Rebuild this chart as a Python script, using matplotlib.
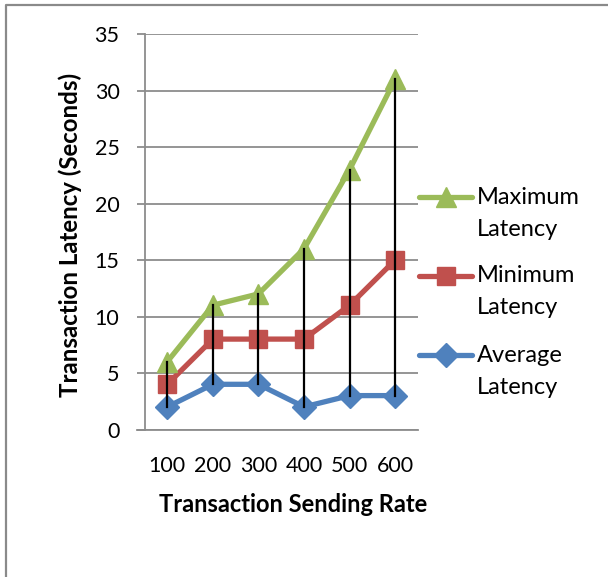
import matplotlib
matplotlib.use("Agg")
import matplotlib.pyplot as plt
from matplotlib.lines import Line2D

plt.rcParams['font.family'] = ['Lato', 'DejaVu Sans']

rates = ['100', '200', '300', '400', '500', '600']
max_latency = [6, 11, 12, 16, 23, 31]
min_latency = [4, 8, 8, 8, 11, 15]
avg_latency = [2, 4, 4, 2, 3, 3]
y_ticks = [0, 5, 10, 15, 20, 25, 30, 35]

GREEN = '#9BBB59'
RED = '#C0504D'
BLUE = '#4F81BD'
GRID = '#8C8C8C'

W, H = 608, 577
fig = plt.figure(figsize=(W / 100, H / 100), dpi=100)

# plot area in pixel terms: x 144..418, y 34..430
left, right, top, bottom = 144.5, 418, 34, 429.5
ax = fig.add_axes([left / W, 1 - bottom / H, (right - left) / W, (bottom - top) / H])

xs = list(range(1, len(rates) + 1))
ax.set_xlim(0.5, len(rates) + 0.5)
ax.set_ylim(0, 35)

# horizontal gridlines
for t in y_ticks:
    ax.axhline(t, color=GRID, lw=1.3, zorder=0)

# high-low lines between the largest and smallest value at each rate
for x, hi, lo in zip(xs, max_latency, avg_latency):
    ax.plot([x, x], [lo, hi], color='black', lw=1.6, zorder=5)

ax.plot(xs, avg_latency, color=BLUE, lw=3.8, marker='D', ms=12, zorder=3,
        solid_capstyle='round')
ax.plot(xs, min_latency, color=RED, lw=3.8, marker='s', ms=13.5, zorder=3,
        solid_capstyle='round')
ax.plot(xs, max_latency, color=GREEN, lw=3.8, marker='^', ms=15, zorder=3,
        solid_capstyle='round')

for s in ['top', 'right', 'bottom']:
    ax.spines[s].set_visible(False)
ax.spines['left'].set_color(GRID)
ax.spines['left'].set_linewidth(1.3)

ax.set_yticks(y_ticks)
ax.set_yticklabels([str(t) for t in y_ticks], fontsize=15.5)
ax.tick_params(axis='y', length=6, width=1.3, color=GRID, pad=12)
ax.set_xticks(xs)
ax.set_xticklabels(rates, fontsize=15.5)
ax.tick_params(axis='x', length=0, pad=19)
# baseline extends left like the tick marks
ax.plot([0.5 - 8 / 45.6, 6.5], [0, 0], color=GRID, lw=1.3, clip_on=False, zorder=1)

# axis titles
fig.text(293 / W, 1 - 505 / H, 'Transaction Sending Rate', fontsize=17, fontweight='bold',
         ha='center', va='center')
fig.text(70 / W, 1 - 235 / H, 'Transaction Latency (Seconds)', fontsize=17.3,
         fontweight='bold', ha='center', va='center', rotation=90)

# legend entries, handle aligned with the first text line
entries = [('Maximum', 'Latency', GREEN, '^', 15, 197),
           ('Minimum', 'Latency', RED, 's', 13, 276),
           ('Average', 'Latency', BLUE, 'D', 12, 355)]
for l1, l2, c, m, ms, yp in entries:
    yf = 1 - yp / H
    fig.add_artist(Line2D([419 / W, 472 / W], [yf, yf], color=c, lw=3.8,
                          solid_capstyle='round', transform=fig.transFigure))
    fig.add_artist(Line2D([446 / W], [yf], color=c, marker=m, ms=ms, lw=0,
                          transform=fig.transFigure))
    fig.text(477 / W, yf, l1, fontsize=17, va='center', ha='left')
    fig.text(477 / W, 1 - (yp + 32) / H, l2, fontsize=17, va='center', ha='left')

# chart frame
fig.add_artist(Line2D([5.5 / W, 5.5 / W, 1], [0, 1 - 4.5 / H, 1 - 4.5 / H],
                      color='#8A8A8A', lw=1.6, transform=fig.transFigure))

fig.savefig('out.png', dpi=100)
